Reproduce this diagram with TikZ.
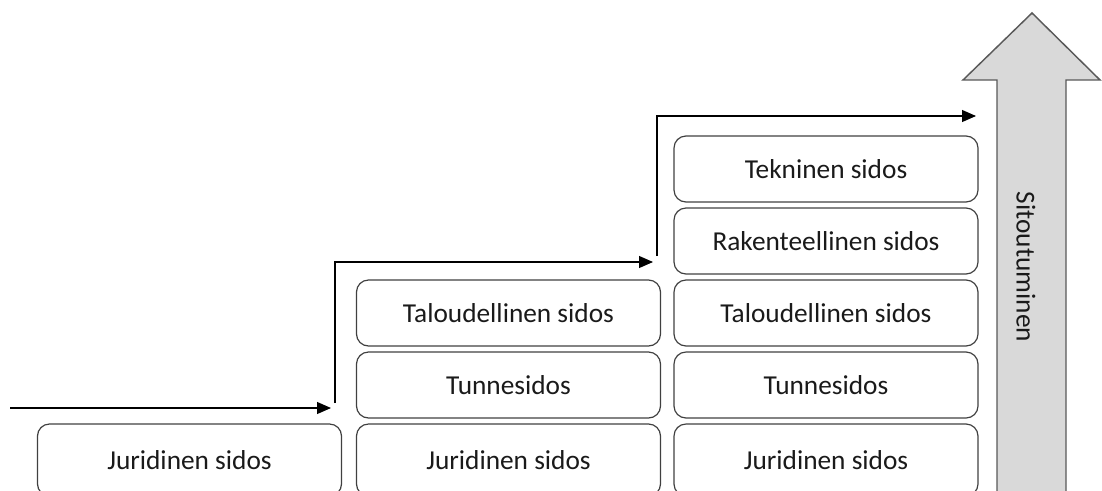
\documentclass[tikz,border=0pt]{standalone}
\usepackage{fontspec}
\setmainfont{Carlito}
\usetikzlibrary{arrows.meta}
\definecolor{boxline}{HTML}{404040}
\definecolor{bigfill}{HTML}{D9D9D9}
\definecolor{bigline}{HTML}{595959}
\definecolor{ink}{HTML}{1A1A1A}

\begin{document}
\begin{tikzpicture}[x=0.75pt, y=-0.75pt,
	sidos/.style={draw=boxline, line width=0.9pt, rounded corners=9pt,
		minimum width=228pt, minimum height=49.5pt, inner sep=0pt,
		text=ink, font=\fontsize{20.5}{24}\selectfont},
	bottom/.style={sidos, minimum height=54pt},
	stepline/.style={line width=0.8pt, -{Triangle[length=10.5pt, width=9pt]}}]
	\useasboundingbox (0,0) rectangle (1102,490);
	% big arrow on the right
	\draw[bigline, fill=bigfill, line width=1.1pt] 
		(997,496) -- (997,80) -- (963,80) -- (1032,13) -- (1100,80) -- (1066,80) -- (1066,496); 
	\node[rotate=-90, text=ink, font=\fontsize{20.5}{24}\selectfont] (sit) at (1026,267) {Sitoutuminen}; 
	% first step
	\node[bottom] (jur1) at (189.5,460) {Juridinen sidos}; 
	% second step
	\node[bottom] (jur2) at (508.5,460) {Juridinen sidos}; 
	\node[sidos] (tun2) at (508.5,385) {Tunnesidos}; 
	\node[sidos] (tal2) at (508.5,313) {Taloudellinen sidos}; 
	% third step
	\node[bottom] (jur3) at (826,460) {Juridinen sidos}; 
	\node[sidos] (tun3) at (826,385) {Tunnesidos}; 
	\node[sidos] (tal3) at (826,313) {Taloudellinen sidos}; 
	\node[sidos] (rak3) at (826,241) {Rakenteellinen sidos}; 
	\node[sidos] (tek3) at (826,169) {Tekninen sidos}; 
	% stairs
	\coordinate (a0) at (10,408); 
	\coordinate (a1) at (331,408); 
	\coordinate (b0) at (335,403); 
	\coordinate (b1) at (335,262); 
	\coordinate (b2) at (653,262); 
	\coordinate (c0) at (657,256); 
	\coordinate (c1) at (657,116); 
	\coordinate (c2) at (976,116); 
	\draw[stepline] (a0) -- (a1); 
	\draw[stepline] (b0) -- (b1) -- (b2); 
	\draw[stepline] (c0) -- (c1) -- (c2); 
\end{tikzpicture}
\end{document}
